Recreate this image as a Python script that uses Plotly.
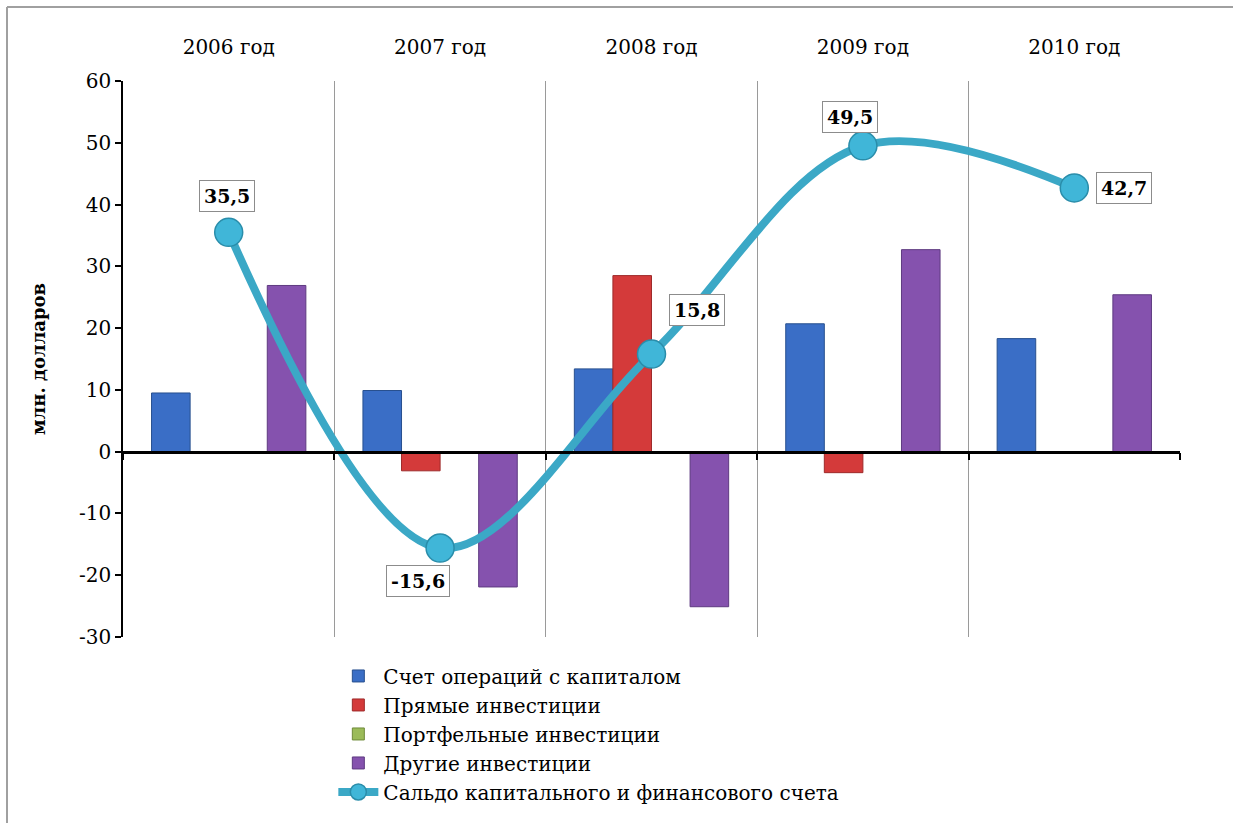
import plotly.graph_objects as go

years = ["2006 год", "2007 год", "2008 год", "2009 год", "2010 год"]
capital_ops = [9.5, 9.9, 13.4, 20.7, 18.3]
direct_inv = [-0.3, -3.1, 28.5, -3.4, -0.2]
portfolio_inv = [0.0, 0.0, 0.0, 0.0, 0.0]
other_inv = [26.9, -21.9, -25.1, 32.7, 25.4]
balance = [35.5, -15.6, 15.8, 49.5, 42.7]
balance_labels = ["35,5", "-15,6", "15,8", "49,5", "42,7"]
label_shift = [(-2, 36), (-22, -33), (45, 44), (-13, 29), (50, 0)]
y_ticks = [-30, -20, -10, 0, 10, 20, 30, 40, 50, 60]
y_ticktext = ["-30", "-20", "-10", "0", "10", "20", "30", "40", "50", "60"]

names = ["Счет операций с капиталом", "Прямые инвестиции",
         "Портфельные инвестиции", "Другие инвестиции",
         "Сальдо капитального и финансового счета"]
colors = ["#3A6EC6", "#D43A3A", "#9BBB59", "#8552AE"]
edges = ["#28508F", "#9E2A2A", "#6F8A3A", "#5E3A80"]

FONT = "DejaVu Serif"
x = list(range(len(years)))

fig = go.Figure()
for name, vals, c, e in zip(names[:4], [capital_ops, direct_inv, portfolio_inv, other_inv], colors, edges):
    fig.add_trace(go.Bar(x=x, y=vals, name=name, marker=dict(color=c, line=dict(color=e, width=1)),
                         xaxis="x", yaxis="y"))

fig.add_trace(go.Scatter(x=x, y=balance, name=names[4], mode="lines+markers",
                         line=dict(color="#3BA8C6", width=8, shape="spline", smoothing=1.0),
                         marker=dict(size=28, color="#40B6D8", line=dict(color="#2A8DAA", width=1.5))))

for xi, yi, t, (dx, dy) in zip(x, balance, balance_labels, label_shift):
    fig.add_annotation(x=xi, y=yi, text="<b>%s</b>" % t, showarrow=False,
                       xshift=dx, yshift=dy, bgcolor="white", bordercolor="#8C8C8C",
                       borderwidth=1, borderpad=4,
                       font=dict(family=FONT, size=19, color="black"))

# outer frame: left and top edges only
fx0 = (7 - 123) / 1057
fx1 = (1233 - 123) / 1057
fy0 = (637 - 823) / 556
fy1 = (637 - 7) / 556
frame = dict(color="#A0A0A0", width=2)
fig.add_shape(type="line", xref="paper", yref="paper", x0=fx0, x1=fx1, y0=fy1, y1=fy1, line=frame, layer="below")
fig.add_shape(type="line", xref="paper", yref="paper", x0=fx0, x1=fx0, y0=fy0, y1=fy1, line=frame, layer="below")

fig.update_layout(
    width=1233, height=823,
    margin=dict(l=123, r=53, t=81, b=186),
    paper_bgcolor="white", plot_bgcolor="white",
    barmode="group", bargap=0.27, bargroupgap=0,
    font=dict(family=FONT, size=20, color="black"),
    showlegend=True,
    legend=dict(x=0.199, y=-0.035, xanchor="left", yanchor="top",
                font=dict(family=FONT, size=20, color="black"),
                tracegroupgap=0, bgcolor="rgba(0,0,0,0)", itemwidth=40),
    xaxis=dict(range=[-0.5, 4.5], side="top", tickmode="array", tickvals=x, ticktext=years,
               showline=False, ticks="", showgrid=False, zeroline=False, automargin=False,
               ticklabelstandoff=22,
               tickfont=dict(family=FONT, size=20, color="black"),
               minor=dict(tickmode="array", tickvals=[0.5, 1.5, 2.5, 3.5], showgrid=True,
                          gridcolor="#9A9A9A", gridwidth=1, ticks="")),
    xaxis2=dict(range=[-0.5, 4.5], overlaying="x", anchor="free", position=1 / 3, side="bottom",
                showline=True, linecolor="black", linewidth=2.5, ticks="outside",
                tickmode="array", tickvals=[-0.5, 0.5, 1.5, 2.5, 3.5, 4.5],
                ticklen=7, tickwidth=2, tickcolor="black", showticklabels=False,
                showgrid=False, zeroline=False, automargin=False),
    yaxis=dict(range=[-30, 60], tickmode="array", tickvals=y_ticks, ticktext=y_ticktext,
               showgrid=False, zeroline=False, automargin=False,
               showline=True, linecolor="black", linewidth=1.5, ticks="outside",
               ticklen=6, tickwidth=1.5, tickcolor="black",
               tickfont=dict(family=FONT, size=20, color="black"),
               title=dict(text="<b>млн. долларов</b>", standoff=29,
                          font=dict(family=FONT, size=18, color="black"))),
)
# dummy trace to display xaxis2
fig.add_trace(go.Scatter(x=[None], y=[None], xaxis="x2", yaxis="y", showlegend=False, hoverinfo="skip"))

fig.write_html("out.html", config={"displayModeBar": False},
               post_script="document.body.style.margin='0';")
